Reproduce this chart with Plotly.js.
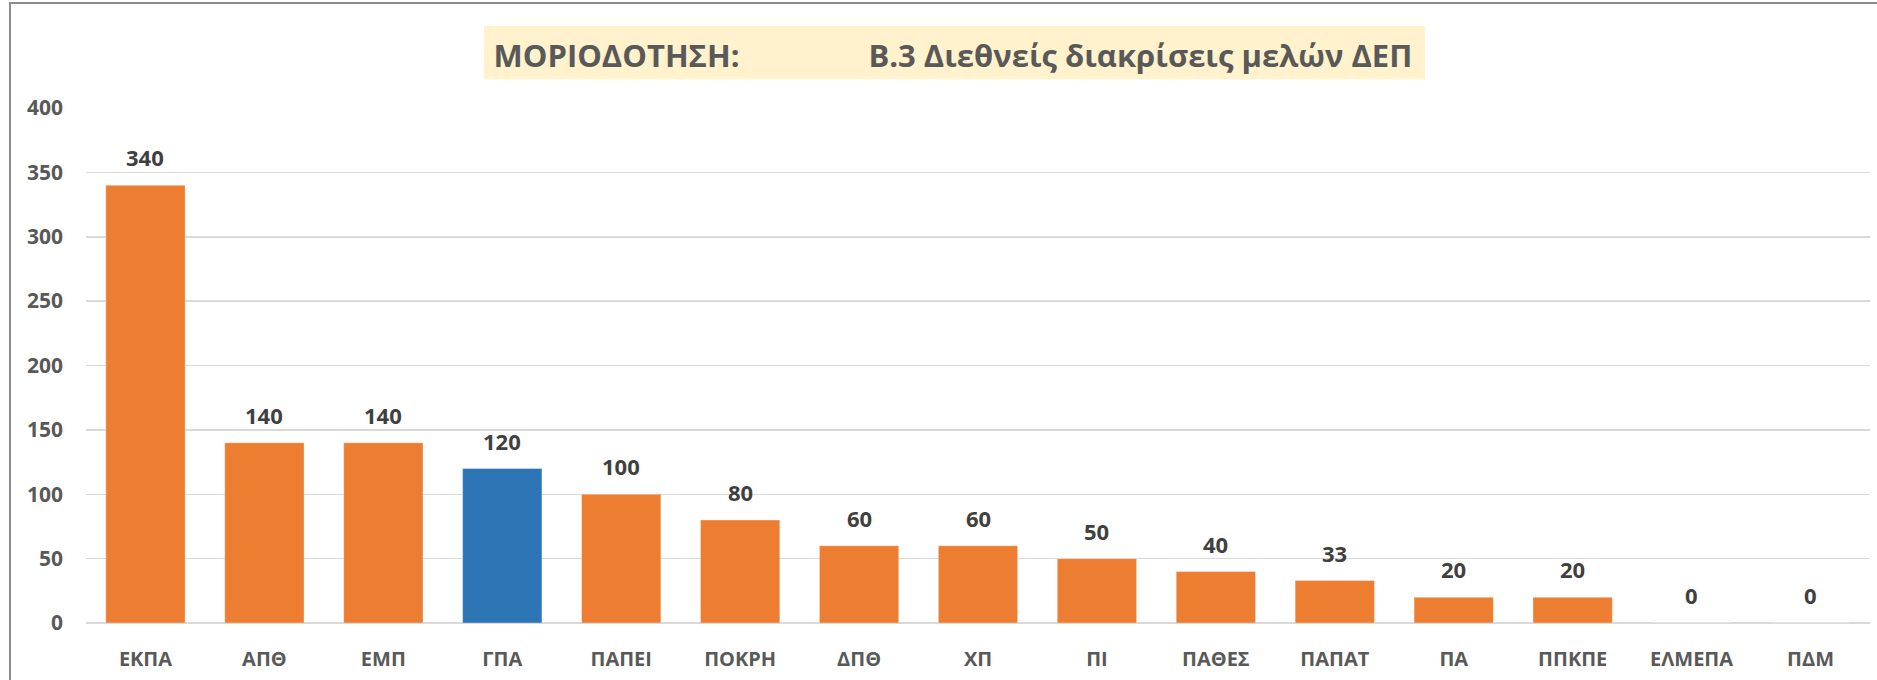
<!DOCTYPE html>
<html>
<head>
<meta charset="utf-8">
<script src="https://cdn.plot.ly/plotly-3.0.1.min.js"></script>
<style>
  html, body { margin: 0; padding: 0; background: #fff; overflow: hidden; }
  #wrap { position: relative; width: 1877px; height: 680px; }
  #chart { position: absolute; left: 0; top: 0; width: 1877px; height: 680px; }
  #frame { position: absolute; left: 9px; top: 2px; width: 1900px; height: 700px;
           border-left: 2px solid #8c8c8c; border-top: 2px solid #8c8c8c; pointer-events: none; }
</style>
</head>
<body>
<div id="wrap">
  <div id="chart"></div>
  <div id="frame"></div>
</div>
<script>
// ---- data ----
const categories = ["ΕΚΠΑ", "ΑΠΘ", "ΕΜΠ", "ΓΠΑ", "ΠΑΠΕΙ", "ΠΟΚΡΗ", "ΔΠΘ", "ΧΠ", "ΠΙ", "ΠΑΘΕΣ", "ΠΑΠΑΤ", "ΠΑ", "ΠΠΚΠΕ", "ΕΛΜΕΠΑ", "ΠΔΜ"];
const values = [340, 140, 140, 120, 100, 80, 60, 60, 50, 40, 33, 20, 20, 0, 0];
const highlighted = "ΓΠΑ";
const yTicks = [0, 50, 100, 150, 200, 250, 300, 350, 400];
const titleLeft = "ΜΟΡΙΟΔΟΤΗΣΗ:";
const titleRight = "Β.3 Διεθνείς διακρίσεις μελών ΔΕΠ";

// ---- styles ----
const ORANGE = "#ED7D31";
const BLUE = "#2E75B6";
const FONT = "Open Sans, Noto Sans, DejaVu Sans, sans-serif";

const colors = categories.map(c => c === highlighted ? BLUE : ORANGE);

const trace = {
  type: "bar",
  x: categories,
  y: values,
  marker: { color: colors, line: { color: "rgba(255,255,255,0.35)", width: 1 } },
  hoverinfo: "x+y"
};

const labels = categories.map((c, i) => ({
  x: c, y: values[i], xref: "x", yref: "y",
  text: String(values[i]), showarrow: false,
  yanchor: "bottom", yshift: 11,
  font: { family: FONT, size: 22, color: "#404040", weight: "bold" }
}));

const gap = "\u00A0".repeat(16);

const layout = {
  width: 1877, height: 680,
  margin: { l: 86, r: 7, t: 108, b: 57 },
  paper_bgcolor: "#ffffff", plot_bgcolor: "#ffffff",
  showlegend: false,
  bargap: 0.333,
  title: {
    text: titleLeft + gap + titleRight,
    x: 0.5077, xref: "container", xanchor: "center",
    y: 0.918, yref: "container", yanchor: "middle",
    font: { family: FONT, size: 31, color: "#595959", weight: "bold" }
  },
  xaxis: {
    type: "category",
    range: [-0.5, categories.length - 0.5],
    showgrid: false, showline: false, zeroline: false,
    ticks: "", ticklabelstandoff: 22,
    tickfont: { family: FONT, size: 20, color: "#595959", weight: "bold" },
    fixedrange: true
  },
  yaxis: {
    range: [0, 400],
    tickvals: yTicks,
    ticktext: yTicks.map(String),
    showgrid: true, gridcolor: "#D9D9D9", gridwidth: 1.5,
    zeroline: true, zerolinecolor: "#D9D9D9", zerolinewidth: 1.5,
    showline: false, ticks: "", ticklabelstandoff: 22,
    tickfont: { family: FONT, size: 21, color: "#595959", weight: "bold" },
    fixedrange: true
  },
  shapes: [{
    type: "rect", xref: "paper", yref: "paper",
    x0: 0.2231, x1: 0.7506, y0: 1.0557, y1: 1.1592,
    fillcolor: "#FFF2CC", line: { width: 0 }, layer: "below"
  }],
  annotations: labels
};

Plotly.newPlot("chart", [trace], layout, { displayModeBar: false, staticPlot: true });
</script>
</body>
</html>
